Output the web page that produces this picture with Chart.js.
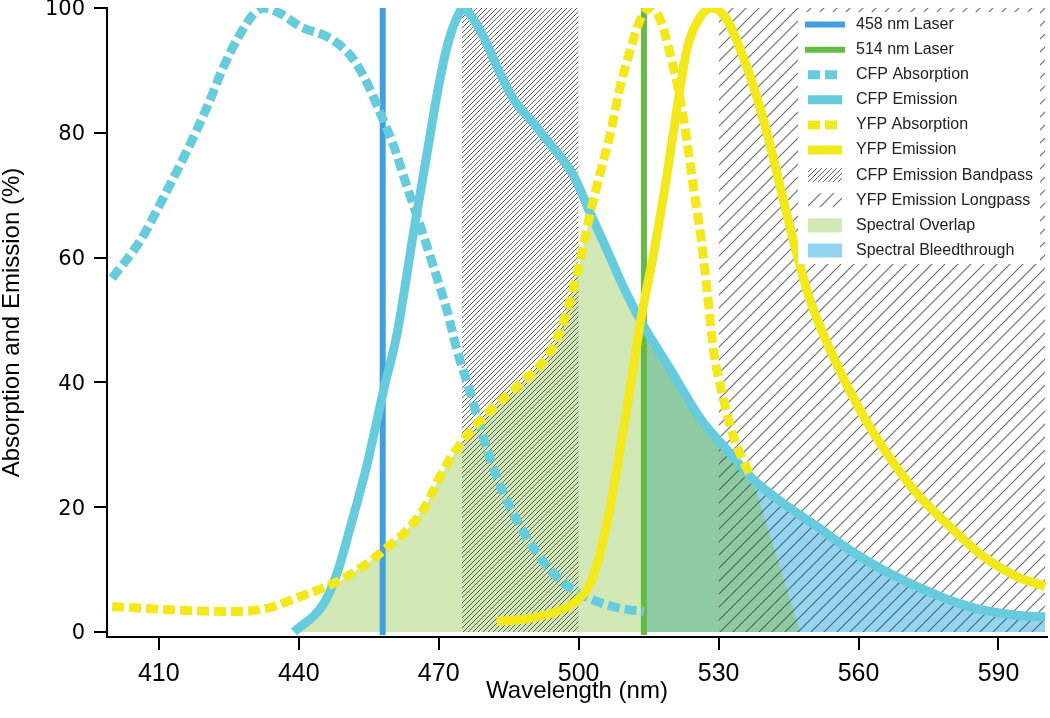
<!DOCTYPE html>
<html>
<head>
<meta charset="utf-8">
<script src="https://cdn.jsdelivr.net/npm/chart.js@4.4.1/dist/chart.umd.min.js"></script>
<style>
  html, body { margin: 0; padding: 0; background: #fff; }
  canvas { display: block; }
</style>
</head>
<body>
<canvas id="grafico" width="1050" height="718"></canvas>
<script>
// ticks de los ejes
const xTicks = [410, 440, 470, 500, 530, 560, 590]
const yTicks = [0, 20, 40, 60, 80, 100]

// lineas laser
const laser458Nm = [458, 458]
const laser514Nm = [514, 514]
const laserVal = [0, 100]

// CFP absorption
const cfpAbsNm = [400, 406.1, 411.1, 416.1, 420.4, 423.9, 427.5, 430.4, 432.5, 436.1, 440.4, 446.1, 448.9, 451.8, 454.7, 457.5, 460.4, 463.2, 466.1, 468.9, 471.8, 473.9, 476.8, 478.9, 481.1, 483.9, 487.5, 491.1, 494.6, 498.9, 503.9, 508.9, 514]
const cfpAbsVal = [56.7, 62.8, 69.8, 77.2, 84.2, 90.6, 95.9, 99.1, 100, 99.1, 97.0, 95.4, 94.0, 91.7, 87.9, 83.1, 77.8, 71.4, 65.0, 58.5, 51.5, 45.2, 38.3, 32.9, 27.6, 22.2, 16.9, 12.6, 9.4, 6.7, 4.9, 3.8, 3.3]

// CFP emission
const cfpEmNm = [439, 445.4, 448.2, 451.1, 454.7, 458.2, 461.1, 464.6, 467.5, 469.7, 471.8, 474.0, 475.4, 476.8, 479.6, 482.5, 486.1, 490.4, 493.2, 496.1, 499.0, 502.5, 506.1, 509.6, 513.2, 520, 526.1, 531.8, 537.2, 543.9, 551.1, 558.2, 565.4, 572.5, 579.6, 586.8, 593.9, 600]
const cfpEmVal = [0, 4.6, 9.4, 16.9, 27.0, 38.8, 47.9, 64.0, 76.7, 86.3, 93.8, 98.6, 100, 98.9, 95.4, 90.6, 85.3, 81.5, 78.8, 76.2, 73.0, 67.1, 61.2, 55.3, 50.0, 41.7, 34.2, 29.2, 24.6, 20.6, 16.9, 13.1, 9.9, 7.3, 5.1, 3.5, 2.7, 2.4]

// YFP absorption
const yfpAbsNm = [400, 413.9, 426.1, 433.2, 440.4, 447.5, 454.7, 458.2, 463.2, 467.5, 470.4, 474.7, 480.4, 487.5, 493.2, 496.1, 499.7, 502.5, 504.6, 506.8, 508.9, 511.1, 513.2, 515.4, 517.5, 519.6, 521.8, 523.2, 524.6, 526.1, 527.5, 528.9, 531.1, 533.2, 536.8]
const yfpAbsVal = [4.1, 3.5, 3.3, 3.8, 5.7, 7.8, 11.0, 13.1, 16.3, 20.6, 25.1, 30.2, 35.0, 39.8, 44.1, 48.4, 57.5, 67.1, 73.5, 79.9, 87.4, 93.3, 98.1, 100, 98.1, 92.7, 85.3, 78.8, 71.4, 63.9, 55.0, 45.2, 37.2, 31.3, 25.0]

// YFP emission
const yfpEmNm = [482.5, 489.6, 496.1, 499.7, 502.5, 504.6, 506.8, 508.9, 511.1, 513.2, 516.1, 519.0, 521.3, 523.2, 526.1, 528.6, 531.8, 534.7, 537.5, 540.4, 543.2, 546.1, 549.6, 554.6, 560.3, 566.1, 572.5, 579.6, 586.8, 593.9, 600]
const yfpEmVal = [1.7, 2.2, 3.5, 5.1, 7.8, 12.6, 20.1, 29.2, 39.3, 49.5, 60.7, 73.5, 85.0, 93.3, 98.6, 100, 98.1, 93.3, 87.4, 79.9, 71.4, 62.5, 53.2, 44.1, 35.6, 28.6, 22.2, 16.9, 12.1, 8.9, 7.3]

// filtros
const bandpassNm = [475, 500]
const longpassNm = [530, 600]
const filterVal = [100, 100]

// areas
const overlapNm = [439, 445.4, 446.8, 449.6, 454.7, 458.2, 463.2, 467.5, 470.4, 474.7, 480.4, 487.5, 493.2, 496.1, 499.7, 502.5, 506.1, 509.6, 513.2, 514, 520, 526.1, 531.8, 537.2, 547.5]
const overlapVal = [0, 4.6, 6.5, 8.6, 11.0, 13.1, 16.3, 20.6, 25.1, 30.2, 35.0, 39.8, 44.1, 48.4, 57.5, 66.8, 61.2, 55.3, 50.0, 49.0, 41.7, 34.2, 29.2, 24.6, 0]
const bleedNm = [514, 520, 526.1, 531.8, 537.2, 543.9, 551.1, 558.2, 565.4, 572.5, 579.6, 586.8, 593.9, 600]
const bleedVal = [49.0, 41.7, 34.2, 29.2, 24.6, 20.6, 16.9, 13.1, 9.9, 7.3, 5.1, 3.5, 2.7, 2.4]

const pts = (xs, ys) => xs.map((x, i) => ({ x, y: ys[i] }))

const cyan = '#66cbdc'
const yellow = '#f2e81c'
const lightGreen = '#d1e8b6'
const darkGreen = '#8ecba3'
const bleedBlue = '#93d4f0'

const canvas = document.getElementById('grafico')
const ctx = canvas.getContext('2d')

// patron rayado
const hatch = (step, color, width) => {
    const tile = document.createElement('canvas')
    tile.width = step
    tile.height = step
    const g = tile.getContext('2d')
    g.strokeStyle = color
    g.lineWidth = width
    g.beginPath()
    g.moveTo(-1, step + 1); g.lineTo(step + 1, -1)
    g.moveTo(-1, 1); g.lineTo(1, -1)
    g.moveTo(step - 1, step + 1); g.lineTo(step + 1, step - 1)
    g.stroke()
    return ctx.createPattern(tile, 'repeat')
}
const densePattern = hatch(5, 'rgba(70,70,70,0.85)', 1)
const sparsePattern = hatch(13, 'rgba(70,70,70,0.8)', 1.1)

// leyenda propia
const legendBox = { left: 798, top: 12, width: 242, rowH: 25.1, sampleX: 808, sampleW: 34, textX: 856 }
const legendPlugin = {
    id: 'leyenda',
    afterDraw: (chart) => {
        const c = chart.ctx
        const items = chart.data.datasets.filter((d) => d.label)
        c.save()
        c.fillStyle = '#fff'
        c.fillRect(legendBox.left, legendBox.top, legendBox.width, items.length * legendBox.rowH + 1)
        items.forEach((d, i) => {
            const y = legendBox.top + legendBox.rowH * (i + 0.5)
            if (d.fill) {
                c.fillStyle = d.backgroundColor
                c.fillRect(legendBox.sampleX, y - 7, legendBox.sampleW, 14)
            } else {
                c.strokeStyle = d.borderColor
                c.lineWidth = d.borderWidth
                c.lineCap = d.borderCapStyle || 'butt'
                c.setLineDash(d.borderDash || [])
                c.beginPath()
                c.moveTo(legendBox.sampleX, y)
                c.lineTo(legendBox.sampleX + legendBox.sampleW, y)
                c.stroke()
                c.setLineDash([])
            }
            c.fillStyle = '#222'
            c.font = '16px "Liberation Sans", Arial, sans-serif'
            c.textBaseline = 'middle'
            c.textAlign = 'left'
            c.fillText(d.label, legendBox.textX, y)
        })
        c.restore()
    }
}

const curve = (label, data, color, dash, order) => ({
    label,
    data,
    borderColor: color,
    backgroundColor: color,
    borderWidth: 9,
    borderDash: dash,
    borderJoinStyle: 'round',
    cubicInterpolationMode: 'monotone',
    fill: false,
    order
})

const config = {
    type: 'line',
    data: {
        datasets: [
            { label: '458 nm Laser', data: pts(laser458Nm, laserVal), borderColor: '#429fdc', borderWidth: 6, borderCapStyle: 'square', fill: false, order: 4 },
            { label: '514 nm Laser', data: pts(laser514Nm, laserVal), borderColor: '#67bb45', borderWidth: 6, borderCapStyle: 'square', fill: false, order: 4 },
            curve('CFP Absorption', pts(cfpAbsNm, cfpAbsVal), cyan, [12, 5], 2),
            curve('CFP Emission', pts(cfpEmNm, cfpEmVal), cyan, [], 3),
            curve('YFP Absorption', pts(yfpAbsNm, yfpAbsVal), yellow, [12, 5], 1),
            curve('YFP Emission', pts(yfpEmNm, yfpEmVal), yellow, [], 0),
            { label: 'CFP Emission Bandpass', data: pts(bandpassNm, filterVal), borderWidth: 0, backgroundColor: densePattern, fill: 'origin', order: 5 },
            { label: 'YFP Emission Longpass', data: pts(longpassNm, filterVal), borderWidth: 0, backgroundColor: sparsePattern, fill: 'origin', order: 5 },
            {
                label: 'Spectral Overlap', data: pts(overlapNm, overlapVal), borderWidth: 0, backgroundColor: lightGreen, fill: 'origin', order: 6,
                segment: { backgroundColor: (s) => s.p0.parsed.x >= laser514Nm[0] ? darkGreen : lightGreen }
            },
            { label: 'Spectral Bleedthrough', data: pts(bleedNm, bleedVal), borderWidth: 0, backgroundColor: bleedBlue, fill: 'origin', order: 7 }
        ]
    },
    options: {
        responsive: false,
        animation: false,
        events: [],
        layout: { padding: { top: 8, right: 3, left: 0, bottom: 0 } },
        elements: { point: { radius: 0 } },
        plugins: { legend: { display: false }, tooltip: { enabled: false } },
        scales: {
            x: {
                type: 'linear',
                min: 398.9,
                max: 600.4,
                afterBuildTicks: (s) => { s.ticks = xTicks.map((v) => ({ value: v })) },
                afterFit: (s) => { s.height = 81; s.paddingLeft = 0; s.paddingRight = 0 },
                grid: { drawOnChartArea: false, drawTicks: true, tickLength: 13, color: '#000', lineWidth: 2 },
                border: { display: true, color: '#000', width: 2 },
                ticks: { color: '#000', padding: 9, maxRotation: 0, autoSkip: false, font: { family: '"Liberation Sans", Arial, sans-serif', size: 25 } },
                title: { display: true, text: 'Wavelength (nm)', color: '#000', padding: { bottom: 12 }, font: { family: '"Liberation Sans", Arial, sans-serif', size: 24 } }
            },
            y: {
                min: -0.8,
                max: 100,
                afterBuildTicks: (s) => { s.ticks = yTicks.map((v) => ({ value: v })) },
                afterFit: (s) => { s.width = 107; s.paddingTop = 0; s.paddingBottom = 0 },
                grid: { drawOnChartArea: false, drawTicks: true, tickLength: 13, color: '#000', lineWidth: 2 },
                border: { display: true, color: '#000', width: 2 },
                ticks: { color: '#000', padding: 9, labelOffset: 2, font: { family: '"DejaVu Sans", sans-serif', size: 21 } },
                title: { display: true, text: 'Absorption and Emission (%)', color: '#000', padding: 0, font: { family: '"Liberation Sans", Arial, sans-serif', size: 24, lineHeight: 1 } }
            }
        }
    },
    plugins: [legendPlugin]
}

const chartjs = new Chart(canvas, config)
</script>
</body>
</html>
